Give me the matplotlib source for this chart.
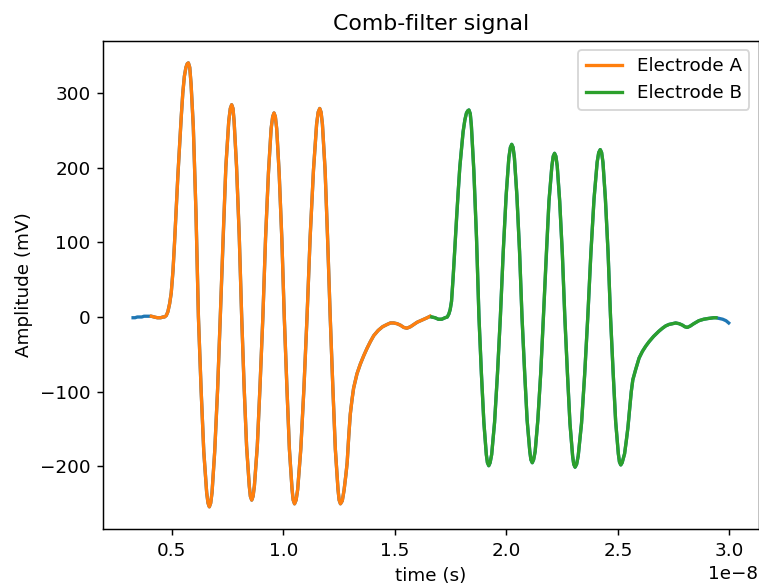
#############
# Libraries #
#############

import matplotlib
matplotlib.use("Agg")
import matplotlib.pyplot as plt
import numpy as np

########
# Data #
########

# times in ns, amplitudes in mV

lead_t = [3.26, 3.35, 3.45, 3.55, 3.65, 3.75, 3.85, 3.95]
lead_v = [-1, -1, 0, 0, 0, 1, 1, 1]

elec_a_t = [4.08, 4.20, 4.35, 4.50, 4.60, 4.67, 4.75, 4.82, 4.90, 4.97,
            5.05, 5.12, 5.20, 5.27, 5.35, 5.42, 5.49, 5.56, 5.63, 5.69, 5.74,
            5.80, 5.86, 5.96, 6.08, 6.19, 6.31, 6.43, 6.56, 6.62, 6.68,
            6.74, 6.80, 6.92, 7.05, 7.17, 7.30, 7.42, 7.55, 7.62, 7.68,
            7.74, 7.79, 7.90, 8.02, 8.13, 8.24, 8.35, 8.47, 8.52, 8.58,
            8.64, 8.70, 8.83, 8.95, 9.08, 9.20, 9.33, 9.45, 9.52, 9.58,
            9.64, 9.70, 9.81, 9.93, 10.04, 10.16, 10.27, 10.39, 10.44, 10.50,
            10.57, 10.64, 10.78, 10.92, 11.06, 11.20, 11.35, 11.49, 11.56, 11.63,
            11.69, 11.75, 11.87, 11.98, 12.10, 12.22, 12.33, 12.45, 12.50, 12.56,
            12.64, 12.72, 12.80, 12.86, 12.93, 13.00, 13.08, 13.15,
            13.30, 13.45, 13.60, 13.75, 13.90, 14.05, 14.25, 14.45,
            14.65, 14.80, 14.95, 15.10, 15.25, 15.40, 15.54, 15.70,
            15.85, 16.00, 16.15, 16.30, 16.45, 16.58]
elec_a_v = [1, 0, -1, -1, 0, 0, 2, 7, 18, 32,
            62, 100, 148, 190, 232, 268, 300, 322, 334, 339, 340,
            334, 312, 255, 140, 0, -97, -180, -235, -249, -254,
            -249, -235, -180, -97, 0, 109, 201, 262, 279, 284,
            279, 262, 201, 109, 0, -94, -173, -226, -240, -245,
            -240, -226, -173, -94, 0, 105, 193, 252, 268, 273,
            268, 252, 193, 105, 0, -96, -177, -231, -245, -250,
            -245, -231, -177, -96, 0, 107, 197, 258, 274, 279,
            274, 258, 197, 107, 0, -96, -177, -231, -245, -250,
            -246, -232, -212, -195, -160, -130, -110, -95,
            -76, -63, -52, -42, -33, -25, -18, -13,
            -10, -8, -8, -9, -11, -14, -15, -13,
            -10, -7, -5, -3, -1, 1]

elec_b_t = [16.65, 16.80, 16.95, 17.10, 17.25, 17.35, 17.42, 17.48, 17.54, 17.61,
            17.69, 17.76, 17.84, 17.91, 17.99, 18.06, 18.14, 18.21, 18.27, 18.32,
            18.38, 18.43, 18.54, 18.66, 18.77, 18.88, 18.99, 19.10, 19.15, 19.21,
            19.27, 19.34, 19.47, 19.60, 19.73, 19.86, 19.99, 20.11, 20.18, 20.24,
            20.30, 20.36, 20.47, 20.59, 20.70, 20.82, 20.93, 21.05, 21.10, 21.16,
            21.22, 21.29, 21.41, 21.54, 21.66, 21.79, 21.91, 22.04, 22.10, 22.16,
            22.22, 22.28, 22.39, 22.51, 22.62, 22.74, 22.85, 22.97, 23.02, 23.08,
            23.15, 23.22, 23.37, 23.51, 23.65, 23.79, 23.93, 24.07, 24.14, 24.21,
            24.27, 24.33, 24.44, 24.56, 24.67, 24.79, 24.90, 25.02, 25.07, 25.13,
            25.19, 25.30, 25.38, 25.45, 25.52, 25.60, 25.67, 25.80,
            25.95, 26.10, 26.25, 26.40, 26.60, 26.84, 27.00, 27.14,
            27.29, 27.45, 27.59, 27.75, 27.90, 28.00, 28.11, 28.25,
            28.40, 28.63, 28.85, 29.05, 29.30, 29.40]
elec_b_v = [0, -1, -3, -3, -1, 0, 4, 10, 21, 52,
            93, 130, 168, 200, 226, 248, 264, 273, 276, 277,
            272, 256, 196, 106, 0, -76, -141, -184, -195, -199,
            -195, -184, -141, -76, 0, 88, 163, 213, 227, 231,
            227, 213, 163, 88, 0, -75, -138, -180, -191, -195,
            -191, -180, -138, -75, 0, 84, 155, 202, 215, 219,
            215, 202, 155, 84, 0, -77, -142, -186, -197, -201,
            -197, -186, -142, -77, 0, 86, 158, 207, 220, 224,
            220, 207, 158, 86, 0, -76, -140, -183, -194, -198,
            -195, -183, -165, -148, -125, -100, -84, -70,
            -55, -46, -39, -33, -26, -19, -15, -12,
            -10, -9, -8, -9, -11, -13, -14, -12,
            -9, -5, -3, -2, -1, -1]

tail_t = [29.55, 29.70, 29.85, 29.97]
tail_v = [-2, -3, -5, -8]

#############
# Functions #
#############

def make_axes():
    """
    Builds the figure with the axes box placed like the original.
    """
    fig = plt.figure(figsize=(759 / 132, 588 / 132), dpi=132)
    ax = fig.add_axes([103.3 / 759, 1 - 529 / 588,
                       (758.5 - 103.3) / 759, (529 - 40.7) / 588])
    return fig, ax

def plot_signal(ax):
    """
    Full trace first, then the two electrode windows on top.
    """
    full_t = np.array(lead_t + elec_a_t + elec_b_t + tail_t) * 1e-9
    full_v = np.array(lead_v + elec_a_v + elec_b_v + tail_v)
    ax.plot(full_t, full_v, lw=1.8)
    ax.plot(np.array(elec_a_t) * 1e-9, elec_a_v, lw=1.8, label="Electrode A")
    ax.plot(np.array(elec_b_t) * 1e-9, elec_b_v, lw=1.8, label="Electrode B")
    ax.set_title("Comb-filter signal")
    ax.set_xlabel("time (s)")
    ax.set_ylabel("Amplitude (mV)")
    ax.legend(loc="upper right")
    return

###########
# Program #
###########

if __name__ == '__main__':
    fig, ax = make_axes()
    plot_signal(ax)
    fig.savefig("out.png", dpi=132)
